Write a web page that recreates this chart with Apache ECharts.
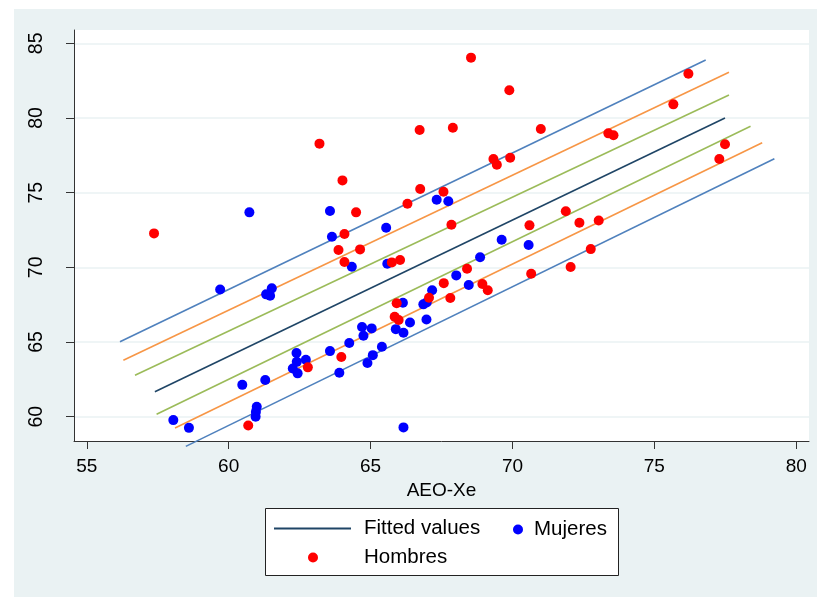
<!DOCTYPE html>
<html><head><meta charset="utf-8">
<script src="https://cdn.jsdelivr.net/npm/echarts@6/dist/echarts.min.js"></script>
<style>
html,body{margin:0;padding:0;background:#fff;}
#bg{position:absolute;left:14px;top:9px;width:803px;height:588px;background:#eaf2f3;}
#chart{position:absolute;left:0;top:0;width:817px;height:597px;}
</style></head><body>
<div id="bg"></div><div id="chart"></div>
<script>
const xTicks = [55, 60, 65, 70, 75, 80];
const yTicks = [60, 65, 70, 75, 80, 85];
const xTitle = 'AEO-Xe';

const mujeres = [
  [60.73,73.68],[63.57,73.77],[63.64,72.05],[67.33,74.52],[67.74,74.42],[65.55,72.65],
  [69.62,71.85],[70.57,71.49],[68.86,70.67],[68.02,69.46],[68.46,68.81],[67.17,68.46],
  [66.86,67.52],[66.98,67.65],[66.97,66.51],[66.39,66.31],[66.16,65.62],[66.14,67.63],
  [66.16,59.28],[64.34,70.04],[65.59,70.24],[59.70,68.52],[61.52,68.59],[61.32,68.19],
  [61.46,68.09],[65.89,65.86],[64.70,66.00],[65.04,65.91],[64.75,65.42],[64.25,64.93],
  [65.40,64.68],[65.08,64.12],[64.89,63.59],[63.57,64.39],[63.90,62.94],[62.39,64.26],
  [62.72,63.81],[62.40,63.67],[62.26,63.23],[62.43,62.90],[61.29,62.45],[60.48,62.13],
  [60.99,60.66],[60.96,60.32],[60.95,59.99],[58.05,59.77],[58.60,59.25]
];
const hombres = [
  [57.37,72.27],[60.69,59.41],[63.20,78.28],[64.01,75.82],[64.49,73.68],[64.08,72.23],
  [63.87,71.16],[64.63,71.20],[64.08,70.35],[65.75,70.33],[66.04,70.49],[65.92,67.59],
  [65.85,66.69],[65.99,66.47],[63.97,63.99],[62.79,63.30],[68.54,84.04],[69.89,81.85],
  [66.73,79.19],[67.90,79.35],[71.00,79.26],[73.38,78.97],[73.56,78.84],[69.33,77.25],
  [69.45,76.87],[69.92,77.34],[66.75,75.24],[67.57,75.06],[66.30,74.26],[67.85,72.85],
  [70.60,72.81],[71.88,73.75],[72.36,72.98],[73.04,73.14],[76.20,82.96],[75.67,80.91],
  [77.49,78.24],[77.29,77.25],[72.76,71.22],[72.05,70.02],[70.66,69.57],[68.40,69.90],
  [67.58,68.94],[67.81,67.94],[68.94,68.88],[69.13,68.46],[67.06,67.96]
];

const fittedValues = [[57.40,61.67],[77.49,80.00]];
const upperBlue   = [[56.17,65.02],[76.81,83.88]];
const upperOrange = [[56.29,63.78],[77.63,83.06]];
const upperGreen  = [[56.70,62.77],[77.63,81.54]];
const lowerGreen  = [[57.46,60.16],[78.39,79.44]];
const lowerOrange = [[58.11,59.24],[78.80,78.34]];
const lowerBlue   = [[58.49,58.01],[79.23,77.27]];

const FONT = 'Liberation Sans, Arial, Helvetica, sans-serif';
const NAVY = '#1f4566', BLUE = '#4f81bd', ORANGE = '#f79646', GREEN = '#9bbb59';

function band(name, data, color) {
  return { name, type: 'line', data, symbol: 'none', clip: false, silent: true,
    lineStyle: { color, width: 1.6 }, itemStyle: { color }, z: 2 };
}

const chart = echarts.init(document.getElementById('chart'), null, { renderer: 'canvas' });
chart.setOption({
  animation: false,
  textStyle: { fontFamily: FONT },
  grid: { left: 74, top: 30, width: 735, height: 411, show: true, backgroundColor: '#ffffff', borderWidth: 0 },
  xAxis: {
    type: 'value', min: 54.55, max: 80.45,
    name: xTitle, nameLocation: 'middle', nameGap: 37,
    nameTextStyle: { fontSize: 19, color: '#000', fontFamily: FONT },
    axisLine: { show: true, onZero: false, lineStyle: { color: '#333', width: 1 } },
    axisTick: { show: true, inside: false, length: 8, customValues: xTicks, lineStyle: { color: '#333' } },
    axisLabel: { customValues: xTicks, margin: 16, fontSize: 19, color: '#000', fontFamily: FONT },
    splitLine: { show: false }
  },
  yAxis: {
    type: 'value', min: 58.37, max: 85.89,
    axisLine: { show: true, onZero: false, lineStyle: { color: '#333', width: 1 } },
    axisTick: { show: true, inside: false, length: 8, customValues: yTicks, lineStyle: { color: '#333' } },
    axisLabel: { customValues: yTicks, rotate: 90, margin: 27, fontSize: 19.5, color: '#000', fontFamily: FONT },
    splitLine: { show: true, lineStyle: { color: '#eaf2f3', width: 1.5 } }
  },
  graphic: [{
    type: 'rect', shape: { x: 265.5, y: 508.5, width: 353, height: 67 },
    style: { fill: '#fff', stroke: '#222', lineWidth: 1 }, z: 1
  }],
  legend: [
    { left: 274, top: 518, padding: 0, itemWidth: 77, itemHeight: 2,
      data: [{ name: 'Fitted values', icon: 'rect', itemStyle: { color: NAVY } }],
      textStyle: { fontSize: 20.5, color: '#000', fontFamily: FONT, padding: [0, 0, 0, 8] } },
    { left: 513, top: 519, padding: 0, itemWidth: 10, itemHeight: 10,
      data: [{ name: 'Mujeres', icon: 'circle' }],
      textStyle: { fontSize: 20.5, color: '#000', fontFamily: FONT, padding: [0, 0, 0, 6] } },
    { left: 308, top: 547, padding: 0, itemWidth: 10, itemHeight: 10,
      data: [{ name: 'Hombres', icon: 'circle' }],
      textStyle: { fontSize: 20.5, color: '#000', fontFamily: FONT, padding: [0, 0, 0, 41] } }
  ],
  series: [
    band('Banda sup. 3', upperBlue, BLUE),
    band('Banda sup. 2', upperOrange, ORANGE),
    band('Banda sup. 1', upperGreen, GREEN),
    band('Fitted values', fittedValues, NAVY),
    band('Banda inf. 1', lowerGreen, GREEN),
    band('Banda inf. 2', lowerOrange, ORANGE),
    band('Banda inf. 3', lowerBlue, BLUE),
    { name: 'Mujeres', type: 'scatter', data: mujeres, symbol: 'circle', symbolSize: 10,
      itemStyle: { color: '#0000ff', opacity: 1 }, z: 3 },
    { name: 'Hombres', type: 'scatter', data: hombres, symbol: 'circle', symbolSize: 10,
      itemStyle: { color: '#ff0000', opacity: 1 }, z: 3 }
  ]
});
</script>
</body></html>
